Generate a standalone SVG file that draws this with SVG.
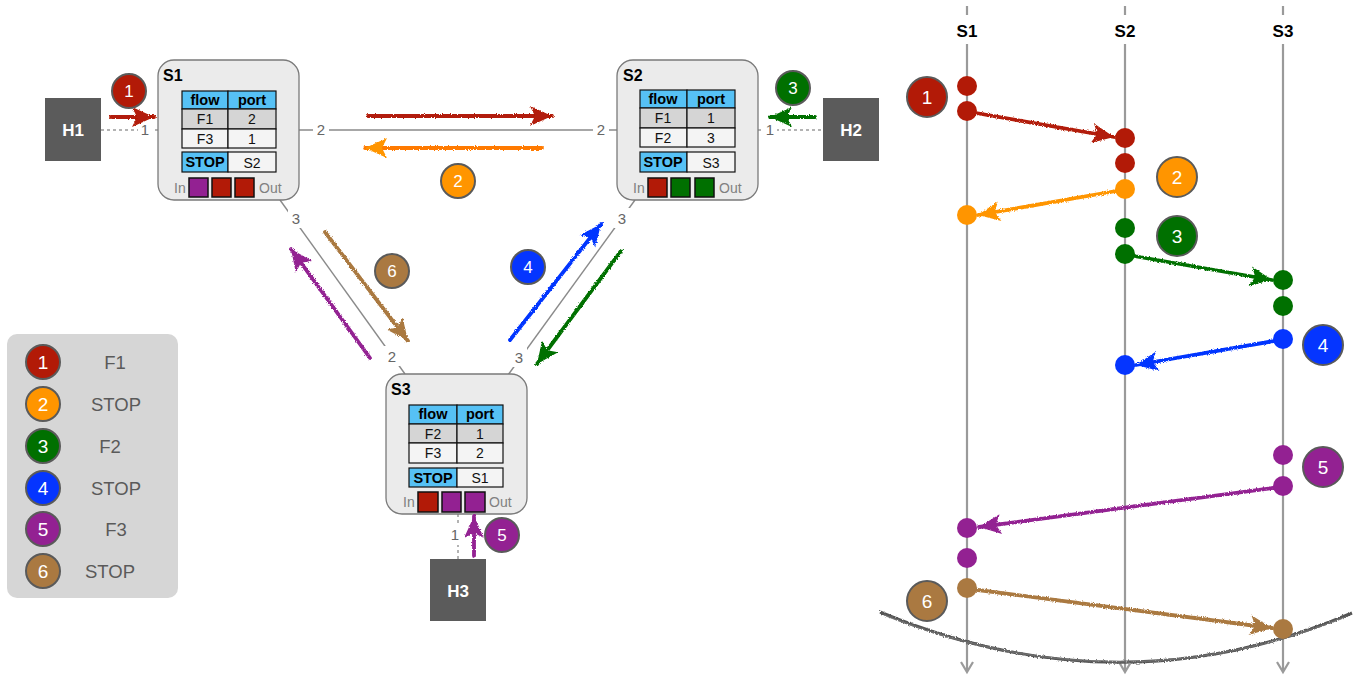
<svg xmlns="http://www.w3.org/2000/svg" width="1354" height="675" viewBox="0 0 1354 675">
  <style>
    text { font-family: "Liberation Sans", Arial, sans-serif; }
    .sw { fill: #ebebeb; stroke: #7a7a7a; stroke-width: 1.3; }
    .title { font-size: 16px; font-weight: bold; fill: #000; }
    .hdr { fill: #56c1f5; stroke: #111; stroke-width: 1.2; }
    .r1 { fill: #d5d5d5; stroke: #111; stroke-width: 1.2; }
    .r2 { fill: #f4f4f4; stroke: #111; stroke-width: 1.2; }
    .th { font-size: 14.5px; font-weight: bold; fill: #000; text-anchor: middle; }
    .td { font-size: 14px; fill: #111; text-anchor: middle; }
    .io { font-size: 14px; fill: #808080; }
    .q { stroke: #111; stroke-width: 1.5; }
    .host { fill: #5b5b5b; }
    .hostt { font-size: 17px; font-weight: bold; fill: #fff; text-anchor: middle; }
    .link { stroke: #8a8a8a; stroke-width: 1.4; fill: none; }
    .hlink { stroke: #9a9a9a; stroke-width: 1.5; stroke-dasharray: 3 3; fill: none; }
    .port { font-size: 15px; fill: #666; text-anchor: middle; }
    .badge { stroke: #5a5a5a; stroke-width: 2; }
    .bt { font-size: 17px; fill: #fff; text-anchor: middle; }
    .bt2 { font-size: 19px; fill: #fff; text-anchor: middle; }
    .leg { font-size: 18.5px; fill: #5a5a5a; text-anchor: middle; }
    .life { stroke: #9a9a9a; stroke-width: 2.2; fill: none; }
    .lt { font-size: 17px; font-weight: bold; fill: #000; text-anchor: middle; }
    .arr { stroke-width: 3.8; fill: none; stroke-linecap: round; }
    .red { fill: #b21a07; } .orange { fill: #ff9500; } .green { fill: #007000; }
    .blue { fill: #0535ff; } .purple { fill: #932192; } .brown { fill: #aa7941; }
  </style>
  <defs>
    <filter id="rough" filterUnits="userSpaceOnUse" x="0" y="0" width="1354" height="675">
      <feTurbulence type="fractalNoise" baseFrequency="0.85" numOctaves="2" seed="4" result="n"/>
      <feDisplacementMap in="SourceGraphic" in2="n" scale="3" xChannelSelector="R" yChannelSelector="G"/>
    </filter>
    <marker id="hRed" markerUnits="userSpaceOnUse" viewBox="0 0 24 22" refX="23" refY="11" markerWidth="24" markerHeight="22" orient="auto"><path d="M1,1 L23,11 L1,21 L6,11 z" fill="#b21a07"/></marker>
    <marker id="hOrange" markerUnits="userSpaceOnUse" viewBox="0 0 24 22" refX="23" refY="11" markerWidth="24" markerHeight="22" orient="auto"><path d="M1,1 L23,11 L1,21 L6,11 z" fill="#ff9500"/></marker>
    <marker id="hGreen" markerUnits="userSpaceOnUse" viewBox="0 0 24 22" refX="23" refY="11" markerWidth="24" markerHeight="22" orient="auto"><path d="M1,1 L23,11 L1,21 L6,11 z" fill="#007000"/></marker>
    <marker id="hBlue" markerUnits="userSpaceOnUse" viewBox="0 0 24 22" refX="23" refY="11" markerWidth="24" markerHeight="22" orient="auto"><path d="M1,1 L23,11 L1,21 L6,11 z" fill="#0535ff"/></marker>
    <marker id="hPurple" markerUnits="userSpaceOnUse" viewBox="0 0 24 22" refX="23" refY="11" markerWidth="24" markerHeight="22" orient="auto"><path d="M1,1 L23,11 L1,21 L6,11 z" fill="#932192"/></marker>
    <marker id="hBrown" markerUnits="userSpaceOnUse" viewBox="0 0 24 22" refX="23" refY="11" markerWidth="24" markerHeight="22" orient="auto"><path d="M1,1 L23,11 L1,21 L6,11 z" fill="#aa7941"/></marker>
  </defs>

  <rect width="1354" height="675" fill="#fff"/>

  <!-- links between switches and hosts -->
  <g id="links">
    <line class="link" x1="299" y1="130" x2="617" y2="130"/>
    <line class="link" x1="280" y1="200" x2="405" y2="374"/>
    <line class="link" x1="635" y1="200" x2="508" y2="375"/>
    <line class="hlink" x1="101" y1="130" x2="158" y2="130"/>
    <line class="hlink" x1="758" y1="130" x2="823" y2="130"/>
    <line class="hlink" x1="458" y1="514" x2="458" y2="559"/>
    <!-- port numbers, with a white gap under each -->
    <g>
      <rect x="138" y="120" width="14" height="20" fill="#fff"/>
      <text class="port" x="145" y="135">1</text>
      <rect x="313" y="120" width="16" height="20" fill="#fff"/>
      <text class="port" x="321" y="135">2</text>
      <rect x="593" y="120" width="16" height="20" fill="#fff"/>
      <text class="port" x="601" y="135">2</text>
      <rect x="763" y="120" width="14" height="20" fill="#fff"/>
      <text class="port" x="770" y="135">1</text>
      <rect x="288" y="208" width="16" height="20" fill="#fff"/>
      <text class="port" x="296" y="224">3</text>
      <rect x="384" y="346" width="16" height="20" fill="#fff"/>
      <text class="port" x="392" y="362">2</text>
      <rect x="614" y="208" width="16" height="20" fill="#fff"/>
      <text class="port" x="622" y="224">3</text>
      <rect x="511" y="347" width="16" height="20" fill="#fff"/>
      <text class="port" x="519" y="363">3</text>
      <rect x="449" y="525" width="14" height="20" fill="#fff"/>
      <text class="port" x="455" y="540">1</text>
    </g>
  </g>

  <!-- hosts -->
  <g id="H1">
    <rect class="host" x="45" y="98" width="56" height="63"/>
    <text class="hostt" x="73" y="136">H1</text>
  </g>
  <g id="H2">
    <rect class="host" x="823" y="98" width="56" height="63"/>
    <text class="hostt" x="851" y="136">H2</text>
  </g>
  <g id="H3">
    <rect class="host" x="430" y="559" width="56" height="62"/>
    <text class="hostt" x="458" y="597">H3</text>
  </g>

  <!-- switch S1 -->
  <g id="S1">
    <rect class="sw" x="158" y="60" width="141" height="140" rx="16"/>
    <text class="title" x="163" y="81">S1</text>
    <rect class="hdr" x="182" y="91" width="46" height="18"/>
    <rect class="hdr" x="228" y="91" width="48" height="18"/>
    <rect class="r1" x="182" y="109" width="46" height="20"/>
    <rect class="r1" x="228" y="109" width="48" height="20"/>
    <rect class="r2" x="182" y="129" width="46" height="19"/>
    <rect class="r2" x="228" y="129" width="48" height="19"/>
    <text class="th" x="205" y="105">flow</text>
    <text class="th" x="252" y="105">port</text>
    <text class="td" x="205" y="124">F1</text>
    <text class="td" x="252" y="124">2</text>
    <text class="td" x="205" y="144">F3</text>
    <text class="td" x="252" y="144">1</text>
    <rect class="hdr" x="182" y="152" width="46" height="20"/>
    <rect class="r2" x="228" y="152" width="48" height="20"/>
    <text class="th" x="205" y="167">STOP</text>
    <text class="td" x="252" y="168">S2</text>
    <text class="io" x="174" y="193">In</text>
    <rect class="q purple" x="189" y="178" width="19" height="19"/>
    <rect class="q red" x="212" y="178" width="19" height="19"/>
    <rect class="q red" x="235" y="178" width="19" height="19"/>
    <text class="io" x="259" y="193">Out</text>
  </g>

  <!-- switch S2 -->
  <g id="S2">
    <rect class="sw" x="617" y="60" width="141" height="140" rx="16"/>
    <text class="title" x="623" y="81">S2</text>
    <rect class="hdr" x="640" y="90" width="47" height="18"/>
    <rect class="hdr" x="687" y="90" width="48" height="18"/>
    <rect class="r1" x="640" y="108" width="47" height="20"/>
    <rect class="r1" x="687" y="108" width="48" height="20"/>
    <rect class="r2" x="640" y="128" width="47" height="19"/>
    <rect class="r2" x="687" y="128" width="48" height="19"/>
    <text class="th" x="663" y="104">flow</text>
    <text class="th" x="711" y="104">port</text>
    <text class="td" x="663" y="123">F1</text>
    <text class="td" x="711" y="123">1</text>
    <text class="td" x="663" y="143">F2</text>
    <text class="td" x="711" y="143">3</text>
    <rect class="hdr" x="640" y="152" width="47" height="20"/>
    <rect class="r2" x="687" y="152" width="48" height="20"/>
    <text class="th" x="663" y="167">STOP</text>
    <text class="td" x="711" y="168">S3</text>
    <text class="io" x="633" y="193">In</text>
    <rect class="q red" x="648" y="178" width="19" height="19"/>
    <rect class="q green" x="671" y="178" width="19" height="19"/>
    <rect class="q green" x="695" y="178" width="19" height="19"/>
    <text class="io" x="719" y="193">Out</text>
  </g>

  <!-- switch S3 -->
  <g id="S3">
    <rect class="sw" x="386" y="374" width="141" height="140" rx="16"/>
    <text class="title" x="391" y="395">S3</text>
    <rect class="hdr" x="409" y="405" width="48" height="19"/>
    <rect class="hdr" x="457" y="405" width="46" height="19"/>
    <rect class="r1" x="409" y="424" width="48" height="19"/>
    <rect class="r1" x="457" y="424" width="46" height="19"/>
    <rect class="r2" x="409" y="443" width="48" height="20"/>
    <rect class="r2" x="457" y="443" width="46" height="20"/>
    <text class="th" x="433" y="419">flow</text>
    <text class="th" x="480" y="419">port</text>
    <text class="td" x="433" y="439">F2</text>
    <text class="td" x="480" y="439">1</text>
    <text class="td" x="433" y="458">F3</text>
    <text class="td" x="480" y="458">2</text>
    <rect class="hdr" x="409" y="468" width="48" height="19"/>
    <rect class="r2" x="457" y="468" width="46" height="19"/>
    <text class="th" x="433" y="483">STOP</text>
    <text class="td" x="480" y="483">S1</text>
    <text class="io" x="403" y="507">In</text>
    <rect class="q red" x="418" y="492" width="20" height="20"/>
    <rect class="q purple" x="442" y="492" width="19" height="20"/>
    <rect class="q purple" x="465" y="492" width="20" height="20"/>
    <text class="io" x="489" y="507">Out</text>
  </g>

  <!-- message arrows in the topology -->
  <g id="topology-arrows" filter="url(#rough)">
    <line class="arr" stroke="#b21a07" x1="111" y1="117" x2="154" y2="117" marker-end="url(#hRed)"/>
    <line class="arr" stroke="#b21a07" x1="368" y1="116" x2="552" y2="116" marker-end="url(#hRed)"/>
    <line class="arr" stroke="#ff7a00" x1="542" y1="148" x2="365" y2="148" marker-end="url(#hOrange)"/>
    <line class="arr" stroke="#007000" x1="815" y1="117" x2="770" y2="117" marker-end="url(#hGreen)"/>
    <line class="arr" stroke="#aa7941" x1="325" y1="232" x2="408" y2="341" marker-end="url(#hBrown)"/>
    <line class="arr" stroke="#932192" x1="370" y1="358" x2="291" y2="249" marker-end="url(#hPurple)"/>
    <line class="arr" stroke="#0535ff" x1="510" y1="340" x2="601" y2="224" marker-end="url(#hBlue)"/>
    <line class="arr" stroke="#007000" x1="621" y1="251" x2="537" y2="364" marker-end="url(#hGreen)"/>
    <line class="arr" stroke="#932192" x1="474" y1="556" x2="474" y2="516" marker-end="url(#hPurple)"/>
  </g>

  <!-- step badges in the topology -->
  <g id="topology-badges">
    <circle class="badge red" cx="129" cy="91" r="17"/><text class="bt" x="129" y="97">1</text>
    <circle class="badge orange" cx="458" cy="181" r="17"/><text class="bt" x="458" y="187">2</text>
    <circle class="badge green" cx="793" cy="88" r="17"/><text class="bt" x="793" y="94">3</text>
    <circle class="badge blue" cx="528" cy="267" r="17"/><text class="bt" x="528" y="273">4</text>
    <circle class="badge purple" cx="502" cy="535" r="17"/><text class="bt" x="502" y="541">5</text>
    <circle class="badge brown" cx="392" cy="271" r="17"/><text class="bt" x="392" y="277">6</text>
  </g>

  <!-- legend -->
  <g id="legend">
    <rect x="7" y="334" width="171" height="264" rx="10" fill="#d6d6d6"/>
    <circle class="badge red" cx="43" cy="362" r="17"/><text class="bt2" x="43" y="369">1</text>
    <text class="leg" x="115" y="369">F1</text>
    <circle class="badge orange" cx="43" cy="404" r="17"/><text class="bt2" x="43" y="411">2</text>
    <text class="leg" x="116" y="411">STOP</text>
    <circle class="badge green" cx="43" cy="446" r="17"/><text class="bt2" x="43" y="453">3</text>
    <text class="leg" x="110" y="453">F2</text>
    <circle class="badge blue" cx="43" cy="488" r="17"/><text class="bt2" x="43" y="495">4</text>
    <text class="leg" x="116" y="495">STOP</text>
    <circle class="badge purple" cx="43" cy="529" r="17"/><text class="bt2" x="43" y="536">5</text>
    <text class="leg" x="116" y="536">F3</text>
    <circle class="badge brown" cx="43" cy="571" r="17"/><text class="bt2" x="43" y="578">6</text>
    <text class="leg" x="110" y="578">STOP</text>
  </g>

  <!-- sequence chart: lifelines -->
  <g id="lifelines">
    <line class="life" x1="967" y1="6" x2="967" y2="15"/>
    <line class="life" x1="1125" y1="6" x2="1125" y2="15"/>
    <line class="life" x1="1283" y1="6" x2="1283" y2="15"/>
    <text class="lt" x="967" y="37">S1</text>
    <text class="lt" x="1125" y="37">S2</text>
    <text class="lt" x="1283" y="37">S3</text>
    <line class="life" x1="967" y1="44" x2="967" y2="671"/>
    <line class="life" x1="1125" y1="44" x2="1125" y2="671"/>
    <line class="life" x1="1283" y1="44" x2="1283" y2="671"/>
    <polyline class="life" points="961,662 967,672 973,662"/>
    <polyline class="life" points="1119,662 1125,672 1131,662"/>
    <polyline class="life" points="1277,662 1283,672 1289,662"/>
  </g>

  <!-- brush stroke across the bottom of the chart -->
  <g id="horizon" filter="url(#rough)">
    <path d="M880,612 Q1120,712 1352,613" fill="none" stroke="#555" stroke-width="3"/>
    <path d="M884,615 Q1120,708 1348,616" fill="none" stroke="#777" stroke-width="1.5" opacity="0.7"/>
  </g>

  <!-- sequence chart: message arrows -->
  <g id="sequence-arrows" filter="url(#rough)">
    <line class="arr" stroke="#b21a07" x1="970" y1="112" x2="1114" y2="137" marker-end="url(#hRed)"/>
    <line class="arr" stroke="#ff9500" x1="1122" y1="190" x2="978" y2="215" marker-end="url(#hOrange)"/>
    <line class="arr" stroke="#007000" x1="1128" y1="255" x2="1272" y2="280" marker-end="url(#hGreen)"/>
    <line class="arr" stroke="#0535ff" x1="1280" y1="340" x2="1136" y2="365" marker-end="url(#hBlue)"/>
    <line class="arr" stroke="#932192" x1="1280" y1="487" x2="979" y2="527" marker-end="url(#hPurple)"/>
    <line class="arr" stroke="#aa7941" x1="970" y1="589" x2="1272" y2="628" marker-end="url(#hBrown)"/>
  </g>

  <!-- sequence chart: events -->
  <g id="events">
    <circle class="red" cx="967" cy="86" r="10"/>
    <circle class="red" cx="967" cy="111" r="10"/>
    <circle class="red" cx="1125" cy="138" r="10"/>
    <circle class="red" cx="1125" cy="163" r="10"/>
    <circle class="orange" cx="1125" cy="189" r="10"/>
    <circle class="orange" cx="967" cy="215" r="10"/>
    <circle class="green" cx="1125" cy="228" r="10"/>
    <circle class="green" cx="1125" cy="254" r="10"/>
    <circle class="green" cx="1283" cy="280" r="10"/>
    <circle class="green" cx="1283" cy="306" r="10"/>
    <circle class="blue" cx="1283" cy="339" r="10"/>
    <circle class="blue" cx="1125" cy="365" r="10"/>
    <circle class="purple" cx="1283" cy="455" r="10"/>
    <circle class="purple" cx="1283" cy="486" r="10"/>
    <circle class="purple" cx="967" cy="528" r="10"/>
    <circle class="purple" cx="967" cy="558" r="10"/>
    <circle class="brown" cx="967" cy="588" r="10"/>
    <circle class="brown" cx="1283" cy="629" r="10"/>
  </g>

  <!-- sequence chart: step badges -->
  <g id="sequence-badges">
    <circle class="badge red" cx="927" cy="97" r="20"/><text class="bt2" x="927" y="104">1</text>
    <circle class="badge orange" cx="1177" cy="177" r="20"/><text class="bt2" x="1177" y="184">2</text>
    <circle class="badge green" cx="1177" cy="236" r="20"/><text class="bt2" x="1177" y="243">3</text>
    <circle class="badge blue" cx="1323" cy="345" r="20"/><text class="bt2" x="1323" y="352">4</text>
    <circle class="badge purple" cx="1323" cy="467" r="20"/><text class="bt2" x="1323" y="474">5</text>
    <circle class="badge brown" cx="927" cy="601" r="20"/><text class="bt2" x="927" y="608">6</text>
  </g>
</svg>
